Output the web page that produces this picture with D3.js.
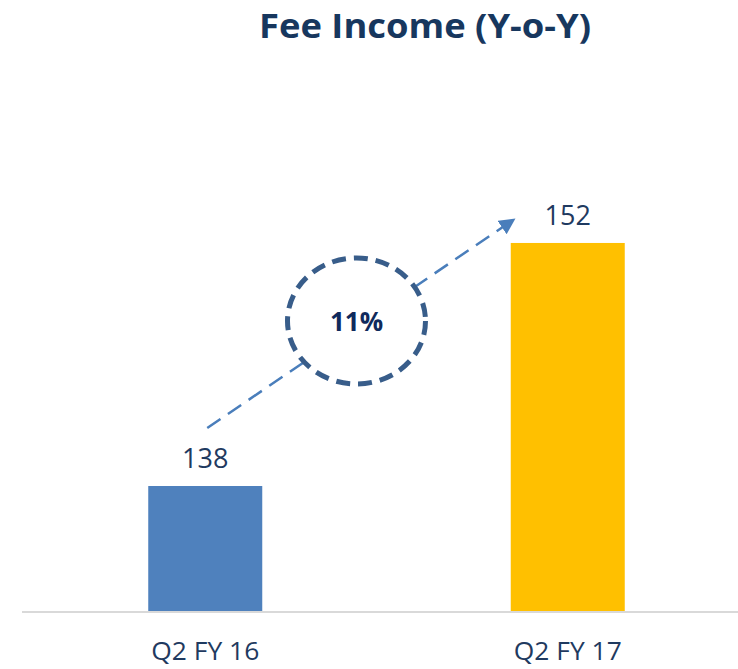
<!DOCTYPE html>
<html>
<head>
<meta charset="utf-8">
<script src="https://cdn.jsdelivr.net/npm/d3@7"></script>
<style>
  body { margin: 0; background: #fff; }
  text { font-family: "Open Sans", "Noto Sans", sans-serif; }
</style>
</head>
<body>
<div id="chart"></div>
<script>
var categories = ['Q2 FY 16', 'Q2 FY 17'];
var values = [138, 152];
var barColors = ['#4f81bd', '#ffc000'];
var growthLabel = '11%';
var chartTitle = 'Fee Income (Y-o-Y)';

var width = 738, height = 669;
var baseY = 611;

var svg = d3.select('#chart').append('svg')
    .attr('width', width)
    .attr('height', height);

// axis does not start at zero in the original
var y = d3.scaleLinear()
    .domain([130.8, 156])
    .range([baseY, baseY - 25.2 * 17.36]);

var x = d3.scaleBand()
    .domain(categories)
    .range([24, 749])
    .paddingInner(0.6855)
    .paddingOuter(0.6855 / 2);

svg.append('text')
    .attr('x', 425)
    .attr('y', 38)
    .attr('text-anchor', 'middle')
    .attr('font-size', 34)
    .attr('font-weight', 'bold')
    .attr('fill', '#17375e')
    .attr('textLength', 332)
    .attr('lengthAdjust', 'spacingAndGlyphs')
    .text(chartTitle);

svg.selectAll('.bar')
    .data(values)
  .enter().append('rect')
    .attr('class', 'bar')
    .attr('x', function(d, i) { return x(categories[i]); })
    .attr('y', function(d) { return y(d); })
    .attr('width', x.bandwidth())
    .attr('height', function(d) { return baseY - y(d); })
    .attr('fill', function(d, i) { return barColors[i]; });

svg.selectAll('.val')
    .data(values)
  .enter().append('text')
    .attr('class', 'val')
    .attr('x', function(d, i) { return x(categories[i]) + x.bandwidth() / 2; })
    .attr('y', function(d) { return y(d) - 18; })
    .attr('text-anchor', 'middle')
    .attr('font-size', 27)
    .attr('fill', '#1f3a60')
    .text(function(d) { return d; });

svg.append('line')
    .attr('x1', 22).attr('x2', width)
    .attr('y1', baseY + 1).attr('y2', baseY + 1)
    .attr('stroke', '#d9d9d9')
    .attr('stroke-width', 2);

var xAxis = d3.axisBottom(x).tickSize(0).tickPadding(0);
var gx = svg.append('g')
    .attr('transform', 'translate(0,' + (baseY + 49) + ')')
    .call(xAxis);
gx.select('.domain').remove();
gx.selectAll('text')
    .attr('font-size', 26)
    .attr('fill', '#1f3a60')
    .attr('dy', 0)
    .attr('textLength', 108)
    .attr('lengthAdjust', 'spacingAndGlyphs')
    .style('font-family', '"Open Sans", "Noto Sans", sans-serif');

// growth arrow
var cx0 = x(categories[0]) + x.bandwidth() / 2;
var x1 = cx0 + 2, y1 = y(values[0]) - 58;
var x2 = x(categories[1]) + 5, y2 = y(values[1]) - 25;

svg.append('defs').append('marker')
    .attr('id', 'arr')
    .attr('viewBox', '0 0 10 10')
    .attr('refX', 5).attr('refY', 5)
    .attr('markerWidth', 6.5).attr('markerHeight', 6.5)
    .attr('orient', 'auto')
  .append('path')
    .attr('d', 'M0,0 L10,5 L0,10 Z')
    .attr('fill', '#4a7ebb');

svg.append('line')
    .attr('x1', x1).attr('y1', y1)
    .attr('x2', x2 - 7).attr('y2', y2 + 5)
    .attr('stroke', '#4a7ebb')
    .attr('stroke-width', 2.5)
    .attr('stroke-dasharray', '16,9')
    .attr('marker-end', 'url(#arr)');

var mx = (x1 + x2) / 2 - 5, my = (y1 + y2) / 2 - 2;
svg.append('ellipse')
    .attr('cx', mx).attr('cy', my)
    .attr('rx', 69).attr('ry', 63)
    .attr('fill', '#fff')
    .attr('stroke', '#385d8a')
    .attr('stroke-width', 5)
    .attr('stroke-dasharray', '14,8');

svg.append('text')
    .attr('x', mx).attr('y', my + 3)
    .attr('text-anchor', 'middle')
    .attr('dominant-baseline', 'middle')
    .attr('font-size', 26)
    .attr('font-weight', 'bold')
    .attr('fill', '#0f2a5c')
    .text(growthLabel);
</script>
</body>
</html>
